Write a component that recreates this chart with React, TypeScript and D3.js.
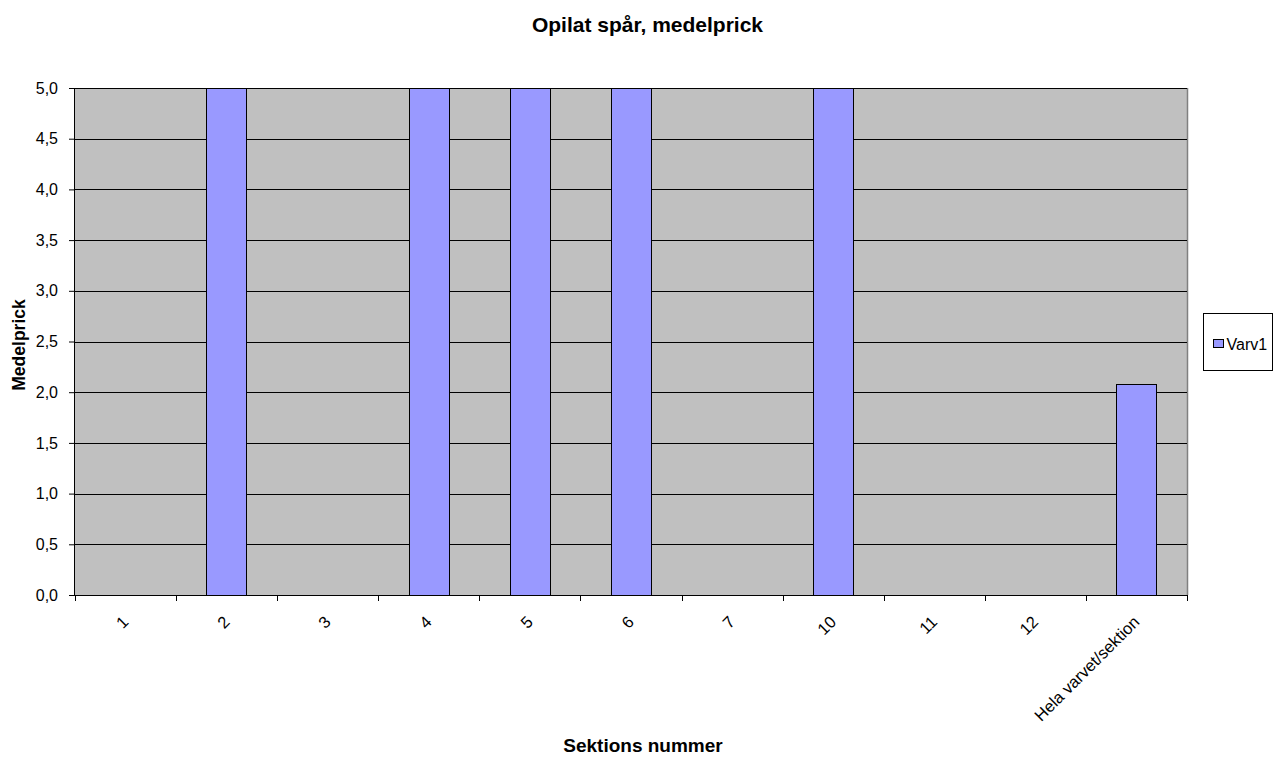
import { useRef, useEffect } from 'react';
import * as d3 from 'd3';

const categories = ['1', '2', '3', '4', '5', '6', '7', '10', '11', '12', 'Hela varvet/sektion'];
const varv1 = [0, 5, 0, 5, 5, 5, 0, 5, 0, 0, 2.08];
const yTicks = [0, 0.5, 1, 1.5, 2, 2.5, 3, 3.5, 4, 4.5, 5];

const WIDTH = 1282;
const HEIGHT = 760;

export default function App() {
  const svgRef = useRef<SVGSVGElement>(null);

  useEffect(() => {
    if (!svgRef.current) return;
    const svg = d3.select(svgRef.current);
    svg.selectAll('*').remove();

    const margin = { top: 88, right: 95, bottom: 165, left: 75 };
    const innerWidth = WIDTH - margin.left - margin.right;
    const innerHeight = HEIGHT - margin.top - margin.bottom;
    const font = 'Arial, "Liberation Sans", sans-serif';

    svg.attr('width', WIDTH).attr('height', HEIGHT).style('font-family', font);

    const g = svg.append('g').attr('transform', `translate(${margin.left},${margin.top})`);

    const x = d3.scaleBand().domain(categories).range([0, innerWidth]).paddingInner(0.6).paddingOuter(0.3);
    const xTicks = d3.scaleBand().domain(categories).range([0, innerWidth]);
    const y = d3.scaleLinear().domain([0, 5]).range([innerHeight, 0]);

    // Plot background
    g.append('rect')
      .attr('width', innerWidth)
      .attr('height', innerHeight)
      .attr('fill', '#c0c0c0');

    // Right border
    g.append('line')
      .attr('x1', innerWidth + 0.5)
      .attr('x2', innerWidth + 0.5)
      .attr('y1', 0)
      .attr('y2', innerHeight)
      .attr('stroke', '#808080')
      .attr('stroke-width', 1.5);

    // Grid lines
    g.append('g')
      .selectAll('line')
      .data(yTicks.filter((d) => d > 0))
      .join('line')
      .attr('x1', 0)
      .attr('x2', innerWidth)
      .attr('y1', (d) => Math.round(y(d)) + 0.5)
      .attr('y2', (d) => Math.round(y(d)) + 0.5)
      .attr('stroke', '#000')
      .attr('stroke-width', 1);

    // Bars
    g.append('g')
      .selectAll('rect')
      .data(varv1.map((v, i) => ({ cat: categories[i], v })))
      .join('rect')
      .filter((d) => d.v > 0)
      .attr('x', (d) => Math.round(x(d.cat)!) + 0.5)
      .attr('y', (d) => Math.round(y(d.v)) + 0.5)
      .attr('width', Math.round(x.bandwidth()))
      .attr('height', (d) => Math.round(innerHeight - y(d.v)))
      .attr('fill', '#9999ff')
      .attr('stroke', '#000')
      .attr('stroke-width', 1);

    // Y axis
    const yAxis = g
      .append('g')
      .call(
        d3
          .axisLeft(y)
          .tickValues(yTicks)
          .tickSize(6)
          .tickPadding(11)
          .tickFormat((d) => d3.format('.1f')(d as number).replace('.', ','))
      );
    yAxis.select('.domain').attr('stroke', '#000').attr('d', `M-0.5,${innerHeight}V0`);
    yAxis.selectAll('line').attr('stroke', '#000');
    yAxis.selectAll('text').attr('font-size', 16).attr('font-family', font).attr('fill', '#000');

    // X axis
    const xAxis = g
      .append('g')
      .attr('transform', `translate(0,${innerHeight})`)
      .call(d3.axisBottom(xTicks).tickSize(0).tickFormat(() => ''));
    xAxis.select('.domain').attr('stroke', '#000');

    // x tick marks at category boundaries
    xAxis
      .append('g')
      .selectAll('line')
      .data(d3.range(categories.length + 1))
      .join('line')
      .attr('x1', (i) => Math.round(i * xTicks.step()) + 0.5)
      .attr('x2', (i) => Math.round(i * xTicks.step()) + 0.5)
      .attr('y1', 0)
      .attr('y2', 6)
      .attr('stroke', '#000');

    // rotated labels
    xAxis
      .append('g')
      .selectAll('text')
      .data(categories)
      .join('text')
      .attr('transform', (d) => `translate(${xTicks(d)! + xTicks.bandwidth() / 2 + 4},${28}) rotate(-45)`)
      .attr('text-anchor', 'end')
      .attr('font-size', 16.5)
      .attr('fill', '#000')
      .text((d) => d);

    // Title
    svg
      .append('text')
      .attr('x', 647.5)
      .attr('y', 32)
      .attr('text-anchor', 'middle')
      .attr('font-size', 21)
      .attr('font-weight', 'bold')
      .text('Opilat spår, medelprick');

    // X axis title
    svg
      .append('text')
      .attr('x', 643)
      .attr('y', 752)
      .attr('text-anchor', 'middle')
      .attr('font-size', 19)
      .attr('font-weight', 'bold')
      .text('Sektions nummer');

    // Y axis title
    svg
      .append('text')
      .attr('transform', `translate(25,345) rotate(-90)`)
      .attr('text-anchor', 'middle')
      .attr('font-size', 17.5)
      .attr('font-weight', 'bold')
      .text('Medelprick');

    // Legend
    const legend = svg.append('g').attr('transform', 'translate(1203.5,313.5)');
    legend.append('rect').attr('width', 69).attr('height', 57).attr('fill', '#fff').attr('stroke', '#000');
    legend
      .append('rect')
      .attr('x', 10)
      .attr('y', 26)
      .attr('width', 10)
      .attr('height', 8)
      .attr('fill', '#9999ff')
      .attr('stroke', '#000');
    legend
      .append('text')
      .attr('x', 23)
      .attr('y', 36)
      .attr('font-size', 16)
      .text('Varv1');
  }, []);

  return (
    <div style={{ margin: -8 }}>
      <svg ref={svgRef} />
    </div>
  );
}
